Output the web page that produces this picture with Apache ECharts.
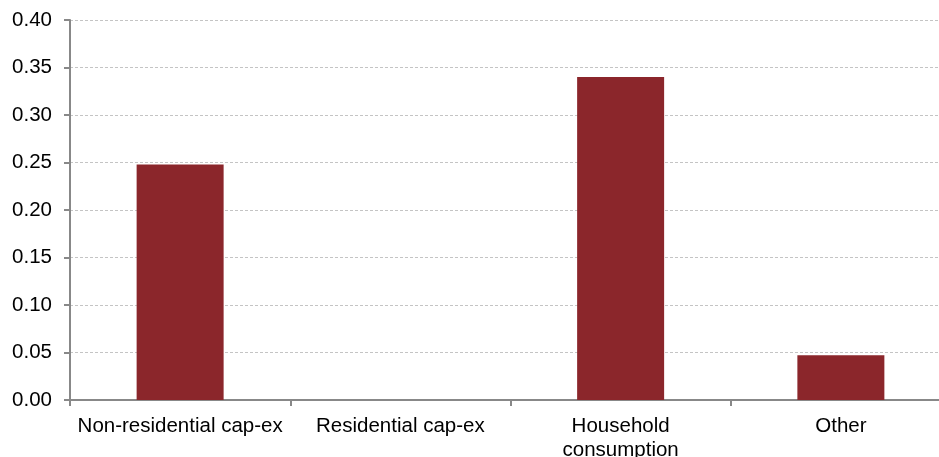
<!DOCTYPE html>
<html>
<head>
<meta charset="utf-8">
<script src="https://cdn.jsdelivr.net/npm/echarts@6/dist/echarts.min.js"></script>
<style>
html,body{margin:0;padding:0;background:#fff;overflow:hidden;}
#chart{width:951px;height:457px;}
</style>
</head>
<body>
<div id="chart"></div>
<script>
var categories = ['Non-residential cap-ex', 'Residential cap-ex', 'Household\nconsumption', 'Other'];
var values = [0.248, 0, 0.34, 0.047];
var yTicks = { min: 0, max: 0.4, step: 0.05 };

var chart = echarts.init(document.getElementById('chart'));
var option = {
    animation: false,
    grid: { left: 70, right: 0, top: 20, bottom: 57, containLabel: false, outerBoundsMode: 'none' },
    xAxis: {
        type: 'category',
        data: categories,
        axisLine: { lineStyle: { color: '#888', width: 2 } },
        axisTick: { show: true, length: 6, lineStyle: { color: '#888', width: 2 } },
        axisLabel: { color: '#000', fontFamily: 'Liberation Sans', fontSize: 20.5, margin: 14, lineHeight: 24, interval: 0 }
    },
    yAxis: {
        type: 'value',
        min: yTicks.min,
        max: yTicks.max,
        interval: yTicks.step,
        axisLine: { show: true, lineStyle: { color: '#888', width: 2 } },
        axisTick: { show: true, length: 6, lineStyle: { color: '#888', width: 2 } },
        axisLabel: {
            color: '#000', fontFamily: 'Liberation Sans', fontSize: 20.5, margin: 18,
            formatter: function (v) { return v.toFixed(2); }
        },
        splitLine: { show: true, lineStyle: { color: '#c4c4c4', type: [3, 2], width: 1 } }
    },
    series: [{
        type: 'bar',
        data: values,
        barWidth: '39.5%',
        itemStyle: { color: '#8b262b' }
    }]
};
chart.setOption(option);
</script>
</body>
</html>
